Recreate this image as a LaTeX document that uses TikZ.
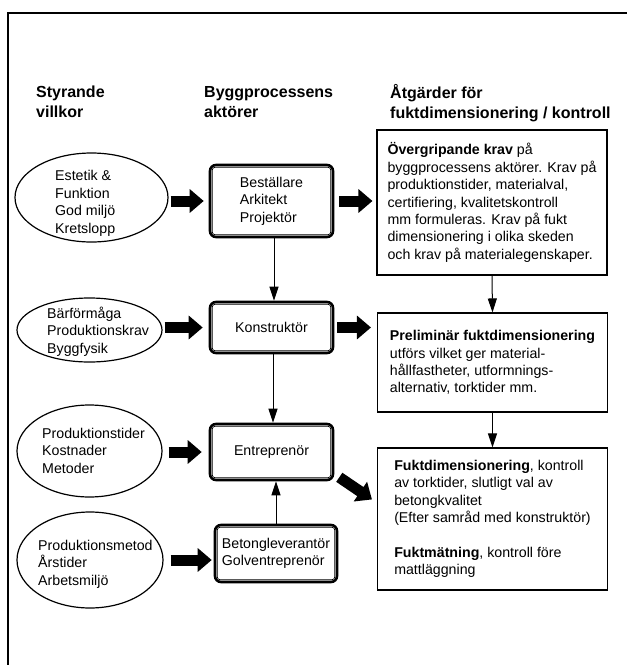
\documentclass[tikz,border=0pt]{standalone}
\usepackage{fontspec}
\setmainfont{Liberation Sans}
\usetikzlibrary{arrows.meta,shapes.geometric}
\begin{document}
\begin{tikzpicture}[x=1pt,y=-1pt,
  hdr/.style={font=\fontsize{16}{20}\selectfont\bfseries, align=left, inner sep=0pt, anchor=base west},
  body/.style={font=\fontsize{14.2}{17.4}\selectfont, align=left},
  cond/.style={ellipse, draw, line width=1.2pt, inner sep=0pt},
  condtext/.style={body, inner sep=0pt, anchor=base west},
  actor/.style={draw, line width=2.6pt, rounded corners=6pt, body, inner sep=0pt},
  actorin/.style={draw, line width=0.7pt, rounded corners=3pt},
  measure/.style={draw, line width=1.1pt, body, inner sep=0pt, minimum width=230pt},
  fatarrow/.style={line width=11pt, -{Triangle[length=14pt,width=23pt]}},
  flow/.style={line width=1pt, -{Triangle[length=14pt,width=9pt]}},
  frame/.style={line width=1.3pt}
]
\useasboundingbox (0,0) rectangle (627,665);
% frame
\draw[frame] (8,665) -- (8,13) -- (627,13);

% headers (base anchor = last line baseline)
\node[hdr] (h1) at (36,117) {Styrande\\villkor};
\node[hdr] (h2) at (204,117) {Byggprocessens\\aktörer};
\node[hdr] (h3) at (390,118) {Åtgärder för\\fuktdimensionering / kontroll};

% conditions (ellipses)
\node[cond, minimum width=153pt, minimum height=89pt] (e1) at (91.5,197.5) {};
\node[cond, minimum width=145pt, minimum height=64pt] (e2) at (89.5,330) {};
\node[cond, minimum width=145pt, minimum height=92pt] (e3) at (89.5,451) {};
\node[cond, minimum width=146pt, minimum height=96pt] (e4) at (90,560) {};
\node[condtext] (e1t) at (55,233) {Estetik \&\\Funktion\\God miljö\\Kretslopp};
\node[condtext] (e2t) at (47,353) {Bärförmåga\\Produktionskrav\\Byggfysik};
\node[condtext] (e3t) at (42,473) {Produktionstider\\Kostnader\\Metoder};
\node[condtext] (e4t) at (38,585) {Produktionsmetod\\Årstider\\Arbetsmiljö};

% actors
\node[actor, minimum width=123pt, minimum height=72pt] (b1) at (271.5,201) {Beställare\\Arkitekt\\Projektör};
\node[actor, minimum width=123pt, minimum height=51pt] (b2) at (271.5,327.5) {Konstruktör};
\node[actor, minimum width=123pt, minimum height=56pt] (b3) at (271.5,452) {Entreprenör};
\node[actor, minimum width=122pt, minimum height=57pt] (b4) at (276,553.5) {Betongleverantör\\Golventreprenör};
\foreach \n in {b1,b2,b3,b4}
  \draw[actorin] ([shift={(3.5pt,-3.5pt)}]\n.north west) rectangle ([shift={(-3.5pt,3.5pt)}]\n.south east);

% measures
\node[measure, minimum height=145pt] (r1) at (492,202.5) {\textbf{Övergripande krav} på\\byggprocessens aktörer. Krav på\\produktionstider, materialval,\\certifiering, kvalitetskontroll\\mm formuleras. Krav på fukt\\dimensionering i olika skeden\\och krav på materialegenskaper.};
\node[measure, minimum height=99pt] (r2) at (492.5,362.5) {\textbf{Preliminär fuktdimensionering}\\utförs vilket ger material-\\hållfastheter, utformnings-\\alternativ, torktider mm.};
\node[measure, minimum height=142pt] (r3) at (492.5,519) {\textbf{Fuktdimensionering}, kontroll\\av torktider, slutligt val av\\betongkvalitet\\(Efter samråd med konstruktör)\\[17.4pt]\textbf{Fuktmätning}, kontroll före\\mattläggning};

% fat arrows
\draw[fatarrow, shorten <=2pt, shorten >=5pt] (e1.east |- b1.west) -- (b1.west);
\draw[fatarrow, shorten <=5pt, shorten >=4pt] (b1.east) -- (r1.west |- b1.east);
\draw[fatarrow, shorten <=2pt, shorten >=6pt] (e2.east |- b2.west) -- (b2.west);
\draw[fatarrow, shorten <=3pt, shorten >=6pt] (b2.east) -- (r2.west |- b2.east);
\draw[fatarrow, shorten <=6pt, shorten >=7pt] (e3.east |- b3.west) -- (b3.west);
\draw[fatarrow, shorten <=7pt, shorten >=2pt] (e4.east) -- (e4.east -| b4.west);
\draw[fatarrow] ([shift={(5pt,4pt)}]b3.south east) -- ([shift={(-5pt,-52pt)}]r3.north west);

% thin arrows
\draw[flow] ([xshift=2.5pt]b1.south) -- ([xshift=2.5pt]b2.north);
\draw[flow] ([xshift=1.5pt]b2.south) -- ([xshift=1.5pt]b3.north);
\draw[flow] (b4.north) -- (b4.north |- b3.south);
\draw[flow] (r1.south) -- (r2.north);
\draw[flow] (r2.south) -- (r3.north);
\end{tikzpicture}
\end{document}
